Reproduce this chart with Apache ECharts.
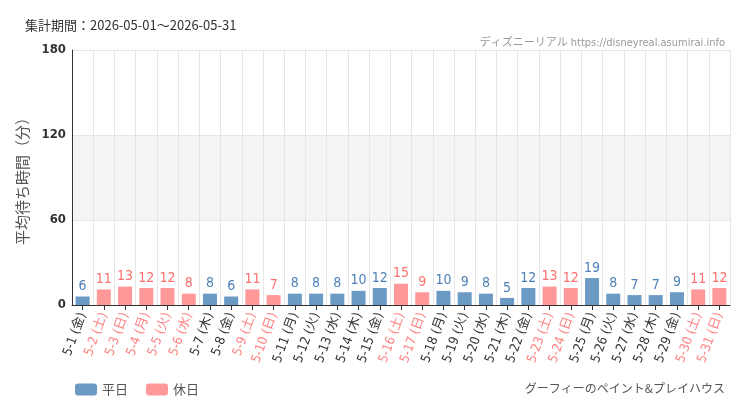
<!DOCTYPE html><html><head><meta charset="utf-8"><script src="https://cdn.jsdelivr.net/npm/echarts@6/dist/echarts.min.js"></script>
<style>body{margin:0}#c{width:750px;height:410px}</style></head><body><div id="c"></div><script>
const days=['5-1','5-2','5-3','5-4','5-5','5-6','5-7','5-8','5-9','5-10','5-11','5-12','5-13','5-14','5-15','5-16','5-17','5-18','5-19','5-20','5-21','5-22','5-23','5-24','5-25','5-26','5-27','5-28','5-29','5-30','5-31'];
const weekdays=['金','土','日','月','火','水','木','金','土','日','月','火','水','木','金','土','日','月','火','水','木','金','土','日','月','火','水','木','金','土','日'];
const values=[6,11,13,12,12,8,8,6,11,7,8,8,8,10,12,15,9,10,9,8,5,12,13,12,19,8,7,7,9,11,12];
const holidays=['5-2','5-3','5-4','5-5','5-6','5-9','5-10','5-16','5-17','5-23','5-24','5-30','5-31'];
const cats=days.map((d,i)=>d+' ('+weekdays[i]+')');
const isH=days.map(d=>holidays.includes(d));
const F='"DejaVu Sans Condensed","Noto Sans CJK JP",sans-serif';
const ch=echarts.init(document.getElementById('c'));
const lab=c=>({show:true,position:'top',color:c,fontSize:14,fontFamily:F,distance:3});
ch.setOption({animation:false,
title:[{text:'集計期間：2026-05-01～2026-05-31',left:20,top:14,textStyle:{fontSize:13,fontWeight:'normal',color:'#333',fontFamily:'"Noto Sans CJK JP"'}},
{text:'ディズニーリアル https://disneyreal.asumirai.info',right:20,top:33,textStyle:{fontSize:11,fontWeight:'normal',color:'#999',fontFamily:F}},
{text:'グーフィーのペイント&プレイハウス',right:20,top:377,textStyle:{fontSize:12,fontWeight:'normal',color:'#555',fontFamily:'"Noto Sans CJK JP"'}}],
legend:{left:70,top:378,itemWidth:22,itemHeight:12,itemGap:18,textStyle:{fontSize:13,color:'#555',fontFamily:'"Noto Sans CJK JP"'},data:['平日','休日']},
grid:{left:72,right:20,top:50,bottom:105},
xAxis:{type:'category',data:cats,axisTick:{show:true,alignWithLabel:true,lineStyle:{color:'#333'}},axisLine:{lineStyle:{color:'#333'}},
splitLine:{show:true,interval:0,lineStyle:{color:'#e6e6e6'}},
axisLabel:{interval:0,rotate:70,fontSize:13,fontFamily:F,color:(v,i)=>isH[i]?'#ff8080':'#333'}},
yAxis:{type:'value',min:0,max:180,interval:60,name:'平均待ち時間（分）',nameLocation:'middle',nameGap:42,nameTextStyle:{fontSize:15,color:'#555',fontFamily:'"Noto Sans CJK JP"'},
axisLine:{show:true,lineStyle:{color:'#333'}},axisLabel:{fontSize:13,fontWeight:'bold',color:'#333',fontFamily:F,margin:6},
splitLine:{lineStyle:{color:'#e6e6e6'}},splitArea:{show:true,areaStyle:{color:['#fff','#f4f4f4','#fff']}}},
series:[{name:'平日',type:'bar',stack:'a',barWidth:'66%',itemStyle:{color:'#6b9ac4'},label:lab('#4f81b8'),data:values.map((v,i)=>isH[i]?null:v)},
{name:'休日',type:'bar',stack:'a',barWidth:'66%',itemStyle:{color:'#ff9999'},label:lab('#ff7070'),data:values.map((v,i)=>isH[i]?v:null)}]});
</script></body></html>
